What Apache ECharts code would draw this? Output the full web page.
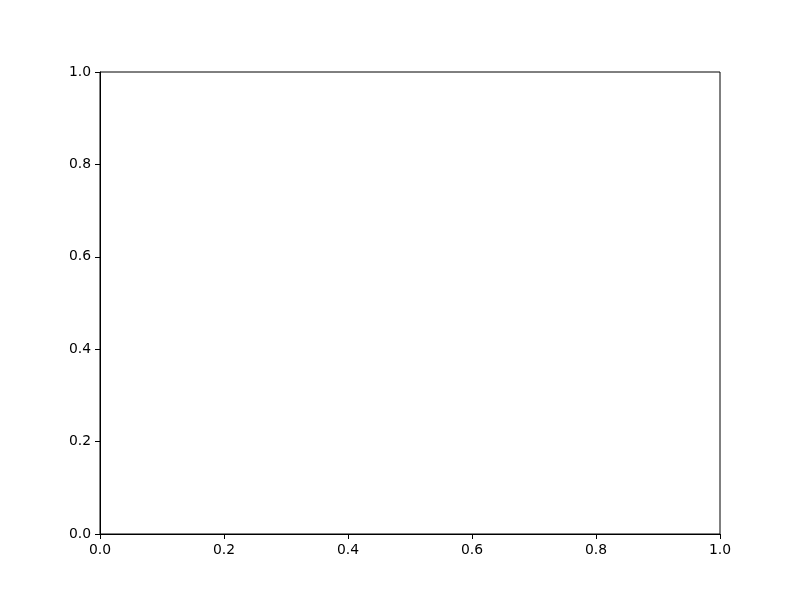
<!DOCTYPE html>
<html>
<head>
<meta charset="utf-8">
<script src="https://cdn.jsdelivr.net/npm/echarts@6/dist/echarts.min.js"></script>
<style>html,body{margin:0;padding:0;background:#fff;}#c{width:800px;height:600px;}</style>
</head>
<body>
<div id="c"></div>
<script>
const xTicks = [0.0, 0.2, 0.4, 0.6, 0.8, 1.0];
const yTicks = [0.0, 0.2, 0.4, 0.6, 0.8, 1.0];
const seriesValues = [];

const chart = echarts.init(document.getElementById('c'), null, {renderer: 'canvas'});
const font = 'DejaVu Sans';
function axis(ticks, isX) {
  return {
    type: 'value',
    min: ticks[0],
    max: ticks[ticks.length - 1],
    interval: ticks[1] - ticks[0],
    axisLine: {show: true, lineStyle: {color: '#000', width: 1}},
    axisTick: {show: true, inside: false, length: 5, lineStyle: {color: '#000', width: 1}},
    splitLine: {show: false},
    axisLabel: {
      show: true, color: '#000', fontFamily: font, fontSize: 13.9,
      margin: isX ? 9 : 9,
      formatter: v => Number(v).toFixed(1)
    }
  };
}
chart.setOption({
  animation: false,
  backgroundColor: '#fff',
  grid: {left: 100, top: 72, width: 620, height: 462, show: true, borderColor: '#000', borderWidth: 1, backgroundColor: 'transparent'},
  xAxis: axis(xTicks, true),
  yAxis: axis(yTicks, false),
  series: [{type: 'scatter', data: seriesValues}]
});
</script>
</body>
</html>
